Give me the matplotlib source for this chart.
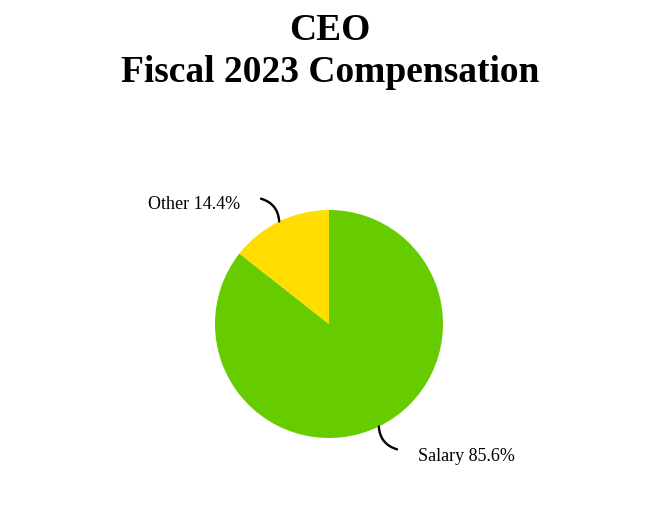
import matplotlib
matplotlib.use("Agg")
import matplotlib.pyplot as plt
import numpy as np

categories = ["Salary", "Other"]
values = [85.6, 14.4]
colors = ["#66CC00", "#FFDD00"]

plt.rcParams['font.family'] = ['Liberation Serif', 'DejaVu Serif']

fig = plt.figure(figsize=(6.6, 5.32), dpi=100)
fig.text(0.5, 1 - 13 / 532, "CEO\nFiscal 2023 Compensation", ha='center', va='top',
         fontsize=27, fontweight='bold', linespacing=1.26)

cx, cy, r = 329, 324, 114
ax = fig.add_axes([(cx - r) / 660, (532 - cy - r) / 532, 2 * r / 660, 2 * r / 532])
wedges, _ = ax.pie(values, colors=colors, startangle=90, counterclock=False,
                   wedgeprops=dict(linewidth=0))
ax.set_xlim(-1, 1)
ax.set_ylim(-1, 1)
ax.set_aspect('equal')
ax.axis('off')

# labels with curved leaders
cum = np.cumsum([0] + values)
for i, (cat, v) in enumerate(zip(categories, values)):
    mid = 90 - (cum[i] + v / 2) * 3.6
    th = np.deg2rad(mid)
    px, py = np.cos(th), np.sin(th)
    sx = np.sign(px)
    sy = np.sign(py)
    ex, ey = px + sx * 0.16, py + sy * 0.20
    ax.annotate("", xy=(px, py), xytext=(ex, ey),
                arrowprops=dict(arrowstyle='-', color='black', lw=1.7,
                                shrinkA=0, shrinkB=0,
                                connectionstyle="arc3,rad=-0.35"),
                annotation_clip=False)
    tx = ex + sx * 0.18
    ty = ey - 0.055 if sy > 0 else ey - 0.065
    ax.text(tx, ty, f"{cat} {v}%", ha='left' if sx > 0 else 'right', va='center',
            fontsize=13, clip_on=False)

fig.savefig("out.png", dpi=100)
